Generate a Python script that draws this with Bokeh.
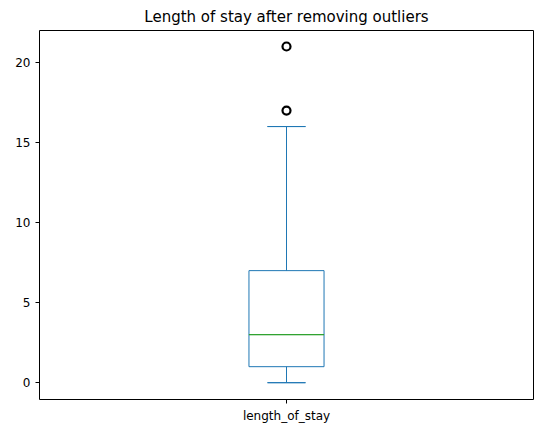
from bokeh.plotting import figure
from bokeh.embed import file_html
from bokeh.resources import INLINE
from bokeh.models import FixedTicker

category = ["length_of_stay"]
q1 = [1]
median = [3]
q3 = [7]
whisker_low = [0]
whisker_high = [16]
outliers = [17, 21]

p = figure(x_range=category, y_range=(-1.05, 22.0), frame_width=494, frame_height=369,
           min_border_left=39, min_border_right=7, min_border_top=28, min_border_bottom=29,
           title="Length of stay after removing outliers",
           output_backend="svg", toolbar_location=None)
p.title.align = "center"
p.title.text_font = "DejaVu Sans"
p.title.text_font_size = "15px"
p.title.text_font_style = "normal"
p.title.text_color = "black"

blue = "#1f77b4"
p.segment(x0=category, y0=whisker_low, x1=category, y1=q1, line_color=blue)
p.segment(x0=category, y0=q3, x1=category, y1=whisker_high, line_color=blue)
p.vbar(x=category, bottom=q1, top=q3, width=0.152, fill_color=None, line_color=blue)
p.rect(x=category, y=whisker_low, width=0.077, height=0.0001, line_color=blue, fill_color=None)
p.rect(x=category, y=whisker_high, width=0.077, height=0.0001, line_color=blue, fill_color=None)
p.rect(x=category, y=median, width=0.152, height=0.0001, line_color="#2ca02c", fill_color=None)
p.scatter(x=[category[0]] * len(outliers), y=outliers, size=8, fill_color=None,
          line_color="black", line_width=2.2)

p.yaxis.ticker = FixedTicker(ticks=[0, 5, 10, 15, 20])
p.xgrid.visible = False
p.ygrid.visible = False
p.outline_line_color = "black"
for ax in (p.xaxis[0], p.yaxis[0]):
    ax.axis_line_color = None
    ax.major_tick_line_color = "black"
    ax.major_tick_out = 4
    ax.major_tick_in = 0
    ax.minor_tick_line_color = None
    ax.major_label_text_font = "DejaVu Sans"
    ax.major_label_text_font_size = "12px"
    ax.major_label_text_color = "black"

open("out.html", "w").write(file_html(p, INLINE))
